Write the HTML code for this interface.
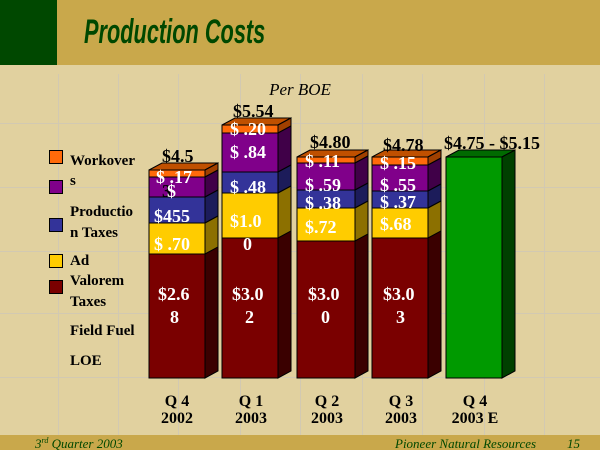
<!DOCTYPE html>
<html><head><meta charset="utf-8"><style>
html,body{margin:0;padding:0;}
body{width:600px;height:450px;overflow:hidden;background:#e1d19f;}
svg{display:block;}
text{font-family:"Liberation Serif",serif;font-weight:bold;}
</style></head><body>
<svg width="600" height="450" viewBox="0 0 600 450" xmlns="http://www.w3.org/2000/svg">
<rect x="0" y="0" width="600" height="450" fill="#e1d19f"/>
<g stroke="#d2c9b2" stroke-width="1">
<line x1="58.5" y1="74" x2="58.5" y2="435"/><line x1="118.5" y1="74" x2="118.5" y2="435"/>
<line x1="178.5" y1="74" x2="178.5" y2="435"/><line x1="240.5" y1="74" x2="240.5" y2="435"/>
<line x1="300.5" y1="74" x2="300.5" y2="435"/><line x1="362.5" y1="74" x2="362.5" y2="435"/>
<line x1="422.5" y1="74" x2="422.5" y2="435"/><line x1="484.5" y1="74" x2="484.5" y2="435"/>
<line x1="544.5" y1="74" x2="544.5" y2="435"/>
<line x1="0" y1="123.5" x2="600" y2="123.5"/><line x1="0" y1="187.5" x2="600" y2="187.5"/>
<line x1="0" y1="251.5" x2="600" y2="251.5"/><line x1="0" y1="313.5" x2="600" y2="313.5"/>
<line x1="0" y1="377.5" x2="600" y2="377.5"/>
</g>
<rect x="0" y="0" width="600" height="65" fill="#c9a84b"/>
<rect x="0" y="0" width="57" height="65" fill="#004800"/>
<text x="0" y="0" font-size="34" fill="#004800" style="font-family:'Liberation Sans',sans-serif;font-weight:bold;font-style:italic;" transform="translate(84 43) scale(0.64 1)">Production Costs</text>
<rect x="0" y="435" width="600" height="15" fill="#c9a84b"/>
<text x="35" y="448" font-size="13" style="font-style:italic;font-weight:normal" fill="#004800">3<tspan font-size="8" dy="-5">rd</tspan><tspan dy="5"> Quarter 2003</tspan></text>
<text x="395" y="448" font-size="13" style="font-style:italic;font-weight:normal" fill="#004800">Pioneer Natural Resources</text>
<text x="567" y="448" font-size="13" style="font-style:italic;font-weight:normal" fill="#004800">15</text>
<text x="300" y="95" font-size="17" style="font-style:italic;font-weight:normal" text-anchor="middle" fill="#000">Per BOE</text>

<g stroke="#000" stroke-width="1">
<rect x="49.5" y="150.5" width="13" height="13" fill="#ff6a0a"/>
<rect x="49.5" y="180.5" width="13" height="13" fill="#80008a"/>
<rect x="49.5" y="218.5" width="13" height="13" fill="#333399"/>
<rect x="49.5" y="254.5" width="13" height="13" fill="#ffcc00"/>
<rect x="49.5" y="280.5" width="13" height="13" fill="#7a0000"/>
</g>
<g font-size="15" fill="#000">
<text x="70" y="165">Workover</text><text x="70" y="185">s</text>
<text x="70" y="216">Productio</text><text x="70" y="237">n Taxes</text>
<text x="70" y="265">Ad</text><text x="70" y="285">Valorem</text><text x="70" y="306">Taxes</text>
<text x="70" y="335">Field Fuel</text><text x="70" y="365">LOE</text>
</g>

<g stroke="#000" stroke-width="1">
<polygon points="149,170 162,163 218,163 205,170" fill="#c05000"/>
<polygon points="205,170 218,163 218,371 205,378" fill="#3a0000"/>
<rect x="149" y="170" width="56" height="7" fill="#ff6a0a"/>
<rect x="149" y="177" width="56" height="20" fill="#80008a"/>
<rect x="149" y="197" width="56" height="26" fill="#333399"/>
<rect x="149" y="223" width="56" height="31" fill="#ffcc00"/>
<rect x="149" y="254" width="56" height="124" fill="#7a0000"/>
<polygon points="205,170 218,163 218,170 205,177" fill="#a04000"/>
<polygon points="205,177 218,170 218,190 205,197" fill="#400048"/>
<polygon points="205,197 218,190 218,216 205,223" fill="#1c1c5a"/>
<polygon points="205,223 218,216 218,247 205,254" fill="#8c7000"/>
<polygon points="222,125 235,118 291,118 278,125" fill="#c05000"/>
<polygon points="278,125 291,118 291,371 278,378" fill="#3a0000"/>
<rect x="222" y="125" width="56" height="8" fill="#ff6a0a"/>
<rect x="222" y="133" width="56" height="39" fill="#80008a"/>
<rect x="222" y="172" width="56" height="21" fill="#333399"/>
<rect x="222" y="193" width="56" height="45" fill="#ffcc00"/>
<rect x="222" y="238" width="56" height="140" fill="#7a0000"/>
<polygon points="278,125 291,118 291,126 278,133" fill="#a04000"/>
<polygon points="278,133 291,126 291,165 278,172" fill="#400048"/>
<polygon points="278,172 291,165 291,186 278,193" fill="#1c1c5a"/>
<polygon points="278,193 291,186 291,231 278,238" fill="#8c7000"/>
<polygon points="297,157 310,150 368,150 355,157" fill="#c05000"/>
<polygon points="355,157 368,150 368,371 355,378" fill="#3a0000"/>
<rect x="297" y="157" width="58" height="6" fill="#ff6a0a"/>
<rect x="297" y="163" width="58" height="27" fill="#80008a"/>
<rect x="297" y="190" width="58" height="18" fill="#333399"/>
<rect x="297" y="208" width="58" height="33" fill="#ffcc00"/>
<rect x="297" y="241" width="58" height="137" fill="#7a0000"/>
<polygon points="355,157 368,150 368,156 355,163" fill="#a04000"/>
<polygon points="355,163 368,156 368,183 355,190" fill="#400048"/>
<polygon points="355,190 368,183 368,201 355,208" fill="#1c1c5a"/>
<polygon points="355,208 368,201 368,234 355,241" fill="#8c7000"/>
<polygon points="372,157 385,150 441,150 428,157" fill="#c05000"/>
<polygon points="428,157 441,150 441,371 428,378" fill="#3a0000"/>
<rect x="372" y="157" width="56" height="8" fill="#ff6a0a"/>
<rect x="372" y="165" width="56" height="26" fill="#80008a"/>
<rect x="372" y="191" width="56" height="17" fill="#333399"/>
<rect x="372" y="208" width="56" height="30" fill="#ffcc00"/>
<rect x="372" y="238" width="56" height="140" fill="#7a0000"/>
<polygon points="428,157 441,150 441,158 428,165" fill="#a04000"/>
<polygon points="428,165 441,158 441,184 428,191" fill="#400048"/>
<polygon points="428,191 441,184 441,201 428,208" fill="#1c1c5a"/>
<polygon points="428,208 441,201 441,231 428,238" fill="#8c7000"/>
<polygon points="446,157 459,150 515,150 502,157" fill="#006a00"/>
<polygon points="502,157 515,150 515,371 502,378" fill="#004000"/>
<rect x="446" y="157" width="56" height="221" fill="#009a00"/>
</g>

<g font-size="18" fill="#000">
<text x="162" y="162">$4.5</text>
<text x="233" y="117">$5.54</text>
<text x="310" y="148">$4.80</text>
<text x="383" y="151">$4.78</text>
<text x="444" y="149">$4.75 - $5.15</text>
</g>
<g font-size="18" fill="#fff">
<text x="156" y="183">$ .17</text>
<text x="162" y="197" fill="#000">3</text><text x="167" y="197">$</text>
<text x="154" y="222">$455</text>
<text x="154" y="250">$ .70</text>
<text x="158" y="300">$2.6</text><text x="170" y="323">8</text>
<text x="230" y="135">$ .20</text>
<text x="230" y="158">$ .84</text>
<text x="230" y="193">$ .48</text>
<text x="230" y="227">$1.0</text><text x="243" y="250">0</text>
<text x="232" y="300">$3.0</text><text x="245" y="323">2</text>
<text x="305" y="167">$ .11</text>
<text x="305" y="191">$ .59</text>
<text x="305" y="209">$ .38</text>
<text x="305" y="233">$.72</text>
<text x="308" y="300">$3.0</text><text x="321" y="323">0</text>
<text x="380" y="169">$ .15</text>
<text x="380" y="191">$ .55</text>
<text x="380" y="208">$ .37</text>
<text x="380" y="230">$.68</text>
<text x="383" y="300">$3.0</text><text x="396" y="323">3</text>
</g>
<g font-size="16" fill="#000" text-anchor="middle">
<text x="177" y="406">Q 4</text><text x="177" y="423">2002</text>
<text x="251" y="406">Q 1</text><text x="251" y="423">2003</text>
<text x="327" y="406">Q 2</text><text x="327" y="423">2003</text>
<text x="401" y="406">Q 3</text><text x="401" y="423">2003</text>
<text x="475" y="406">Q 4</text><text x="475" y="423">2003 E</text>
</g>
</svg>
</body></html>
